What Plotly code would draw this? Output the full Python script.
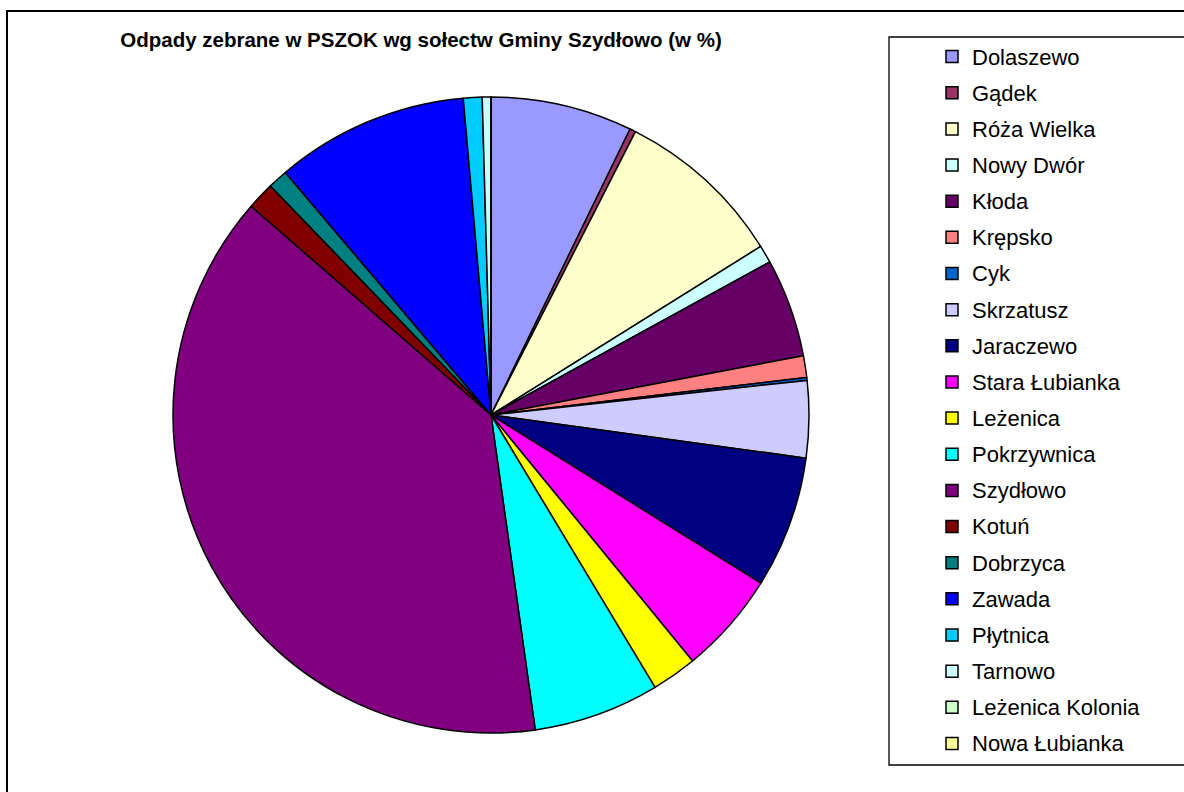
import plotly.graph_objects as go

W, H = 1184, 792

categories = ["Dolaszewo", "Gądek", "Róża Wielka", "Nowy Dwór", "Kłoda", "Krępsko", "Cyk",
              "Skrzatusz", "Jaraczewo", "Stara Łubianka", "Leżenica", "Pokrzywnica", "Szydłowo",
              "Kotuń", "Dobrzyca", "Zawada", "Płytnica", "Tarnowo", "Leżenica Kolonia", "Nowa Łubianka"]
values = [7.2, 0.3, 8.6, 0.9, 5.0, 1.1, 0.15, 3.9, 6.7, 5.2, 2.3, 6.4, 38.6,
          1.4, 1.0, 9.8, 0.95, 0.44, 0, 0]
colors = ["#9999FF", "#993366", "#FFFFCC", "#CCFFFF", "#660066", "#FF8080", "#0066CC",
          "#CCCCFF", "#000080", "#FF00FF", "#FFFF00", "#00FFFF", "#800080",
          "#800000", "#008080", "#0000FF", "#00CCFF", "#CCFFFF", "#CCFFCC", "#FFFF99"]
title_text = "Odpady zebrane w PSZOK wg sołectw Gminy Szydłowo (w %)"

labels = ['<span style="font-size:22px;baseline-shift:2px">%s</span>' % c for c in categories]

def px(x):
    return x / W

def py(y):
    return 1 - y / H

fig = go.Figure(go.Pie(
    labels=labels,
    values=values,
    sort=False,
    direction="clockwise",
    rotation=0,
    textinfo="none",
    hoverinfo="label+value",
    marker=dict(colors=colors, line=dict(color="black", width=1.5)),
    domain=dict(x=[px(173), px(809)], y=[py(733), py(97)]),
))

fig.update_layout(
    width=W, height=H,
    margin=dict(l=0, r=0, t=0, b=0),
    paper_bgcolor="white",
    plot_bgcolor="white",
    font=dict(family="Liberation Sans, Arial, sans-serif", color="black"),
    title=dict(
        text="<b>" + title_text + "</b>",
        x=px(421), xref="paper", xanchor="center",
        y=py(40), yref="paper", yanchor="middle",
        font=dict(size=20.5, family="Liberation Sans, Arial, sans-serif", color="black"),
    ),
    legend=dict(
        x=px(932), y=py(33.5), xanchor="left", yanchor="top",
        font=dict(size=25.5, family="Liberation Sans, Arial, sans-serif", color="black"),
        bgcolor="rgba(0,0,0,0)", borderwidth=0,
        traceorder="normal",
    ),
    showlegend=True,
    shapes=[
        dict(type="rect", xref="paper", yref="paper",
             x0=px(7), y0=py(11), x1=px(1200), y1=py(810),
             line=dict(color="black", width=2), fillcolor="rgba(0,0,0,0)", layer="below"),
        dict(type="rect", xref="paper", yref="paper",
             x0=px(889), y0=py(37), x1=px(1200), y1=py(765),
             line=dict(color="black", width=1.3), fillcolor="rgba(0,0,0,0)", layer="below"),
    ],
)

fig.write_html("out.html", config={"displayModeBar": False},
               post_script="document.body.style.margin='0';")
